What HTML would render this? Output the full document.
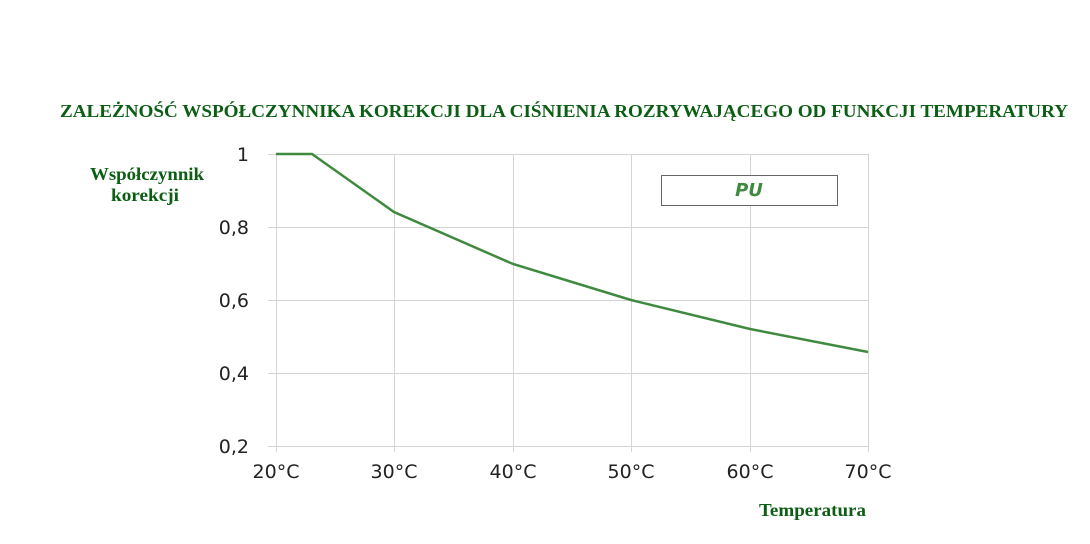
<!DOCTYPE html>
<html><head><style>
body{margin:0;background:#fff;width:1090px;height:539px;overflow:hidden;}
</style></head><body>
<svg width="1090" height="539" xmlns="http://www.w3.org/2000/svg">
<rect width="1090" height="539" fill="#fff"/>
<text x="60" y="117" textLength="1008" lengthAdjust="spacingAndGlyphs" font-family="Liberation Serif, serif" font-weight="bold" font-size="18" fill="#0b5e14">ZALEŻNOŚĆ WSPÓŁCZYNNIKA KOREKCJI DLA CIŚNIENIA ROZRYWAJĄCEGO OD FUNKCJI TEMPERATURY</text>
<g stroke="#d4d4d4" stroke-width="1">
<line x1="268" y1="154.5" x2="868" y2="154.5"/>
<line x1="268" y1="227.5" x2="868" y2="227.5"/>
<line x1="268" y1="300.5" x2="868" y2="300.5"/>
<line x1="268" y1="373.5" x2="868" y2="373.5"/>
<line x1="268" y1="446.5" x2="868" y2="446.5"/>
<line x1="276.5" y1="154" x2="276.5" y2="452"/>
<line x1="394.5" y1="154" x2="394.5" y2="452"/>
<line x1="513.5" y1="154" x2="513.5" y2="452"/>
<line x1="631.5" y1="154" x2="631.5" y2="452"/>
<line x1="750.5" y1="154" x2="750.5" y2="452"/>
<line x1="868.5" y1="154" x2="868.5" y2="452"/>
</g>
<g font-family="DejaVu Sans, sans-serif" font-size="19" fill="#222" text-anchor="end">
<text x="249" y="161">1</text>
<text x="249" y="234">0,8</text>
<text x="249" y="307">0,6</text>
<text x="249" y="380">0,4</text>
<text x="249" y="453">0,2</text>
</g>
<g font-family="DejaVu Sans, sans-serif" font-size="19" fill="#222" text-anchor="middle">
<text x="276" y="478">20°C</text>
<text x="394" y="478">30°C</text>
<text x="513" y="478">40°C</text>
<text x="631" y="478">50°C</text>
<text x="750" y="478">60°C</text>
<text x="868" y="478">70°C</text>
</g>
<polyline points="276,154 312,154 394,212 513,264 631,300 750,329 868,352" fill="none" stroke="#3f8a3f" stroke-width="2.5"/>
<rect x="661.5" y="175.5" width="176" height="30" fill="#fff" stroke="#666" stroke-width="1"/>
<text x="749" y="196" text-anchor="middle" font-family="DejaVu Sans, sans-serif" font-weight="bold" font-style="italic" font-size="18" fill="#3f8a3f">PU</text>
<g font-family="Liberation Serif, serif" font-weight="bold" font-size="17.5" fill="#0b5e14">
<text x="90" y="180" textLength="114" lengthAdjust="spacingAndGlyphs">Współczynnik</text>
<text x="111" y="201" textLength="68" lengthAdjust="spacingAndGlyphs">korekcji</text>
<text x="759" y="516" textLength="107" lengthAdjust="spacingAndGlyphs">Temperatura</text>
</g>
</svg>
</body></html>
